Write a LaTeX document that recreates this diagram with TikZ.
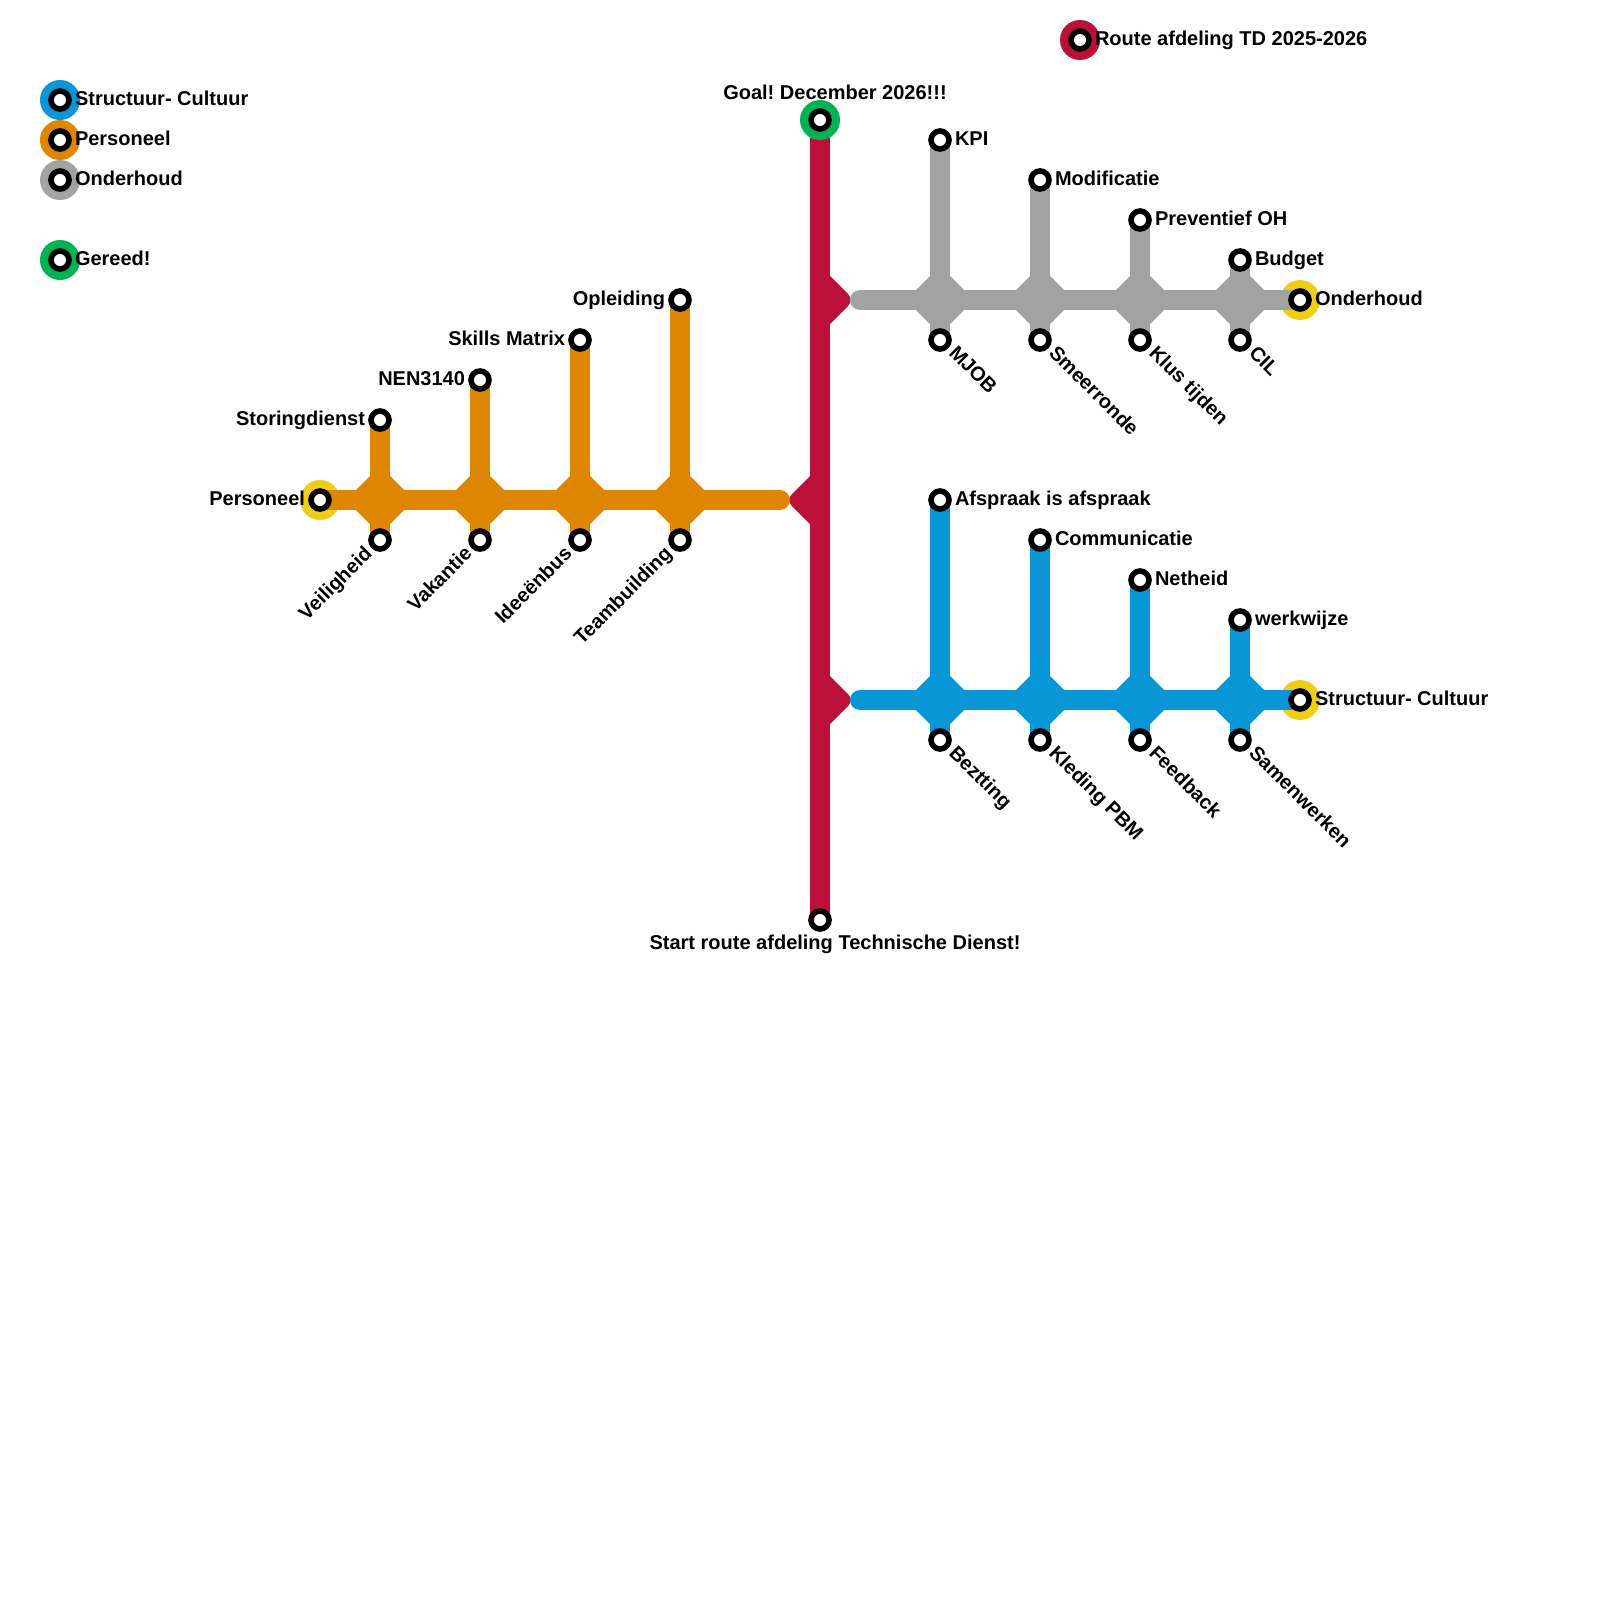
\documentclass[tikz,border=0pt]{standalone}
\usepackage{fontspec}
\setmainfont{Liberation Sans}
\usetikzlibrary{backgrounds,shapes.geometric}
\definecolor{lijnrood}{HTML}{BD1038}
\definecolor{lijnoranje}{HTML}{DF8600}
\definecolor{lijngrijs}{HTML}{A2A2A2}
\definecolor{lijnblauw}{HTML}{0896D7}
\definecolor{lijngeel}{HTML}{F0CE15}
\definecolor{lijngroen}{HTML}{00B251}
\tikzset{
    halte/.style={circle, draw=black, fill=white, line width=0.14cm, minimum size=0.45cm, inner sep=0pt, outer sep=0pt},
    halo/.style={circle, minimum size=1cm, inner sep=0pt, outer sep=0pt},
    kruis/.style={diamond, aspect=1, minimum size=1.7cm, inner sep=0pt, outer sep=0pt},
    lijn/.style={line width=0.5cm},
    naam/.style={font=\frenchspacing\bfseries\fontsize{14.226pt}{17pt}\selectfont, inner sep=0pt, outer sep=0pt},
}

\begin{document}
\begin{tikzpicture}[x=0.025cm,y=-0.025cm]
    \useasboundingbox (0,0) rectangle (1600,1600);
    % legenda
    \foreach \y/\kleur/\tekst in {100/lijnblauw/Structuur- Cultuur, 140/lijnoranje/Personeel, 180/lijngrijs/Onderhoud, 260/lijngroen/Gereed!} {
        \node[halo, fill=\kleur] (leghalo\y) at (60,\y) {};
        \node[halte] (leg\y) at (60,\y) {};
        \node[naam, anchor=base west] (legnaam\y) at (75,\y+5) {\tekst};
    }
    \node[halo, fill=lijnrood] (routehalo) at (1080,40) {};
    \node[halte] (route) at (1080,40) {};
    \node[naam, anchor=base west] (routenaam) at (1095,45) {Route afdeling TD 2025-2026};

    % eindpunten
    \node[halo, fill=lijngeel] (halopers) at (320,500) {};
    \node[halo, fill=lijngeel] (haloond) at (1300,300) {};
    \node[halo, fill=lijngeel] (halostruc) at (1300,700) {};
    \coordinate (startpers) at (780,500);
    \coordinate (startond) at (860,300);
    \coordinate (startstruc) at (860,700);

    % hoofdlijn
    \node[halo, fill=lijngroen] (goalhalo) at (820,120) {};
    \node[halte] (goal) at (820,120) {};
    \node[halte] (start) at (820,920) {};
    \begin{pgfonlayer}{background}
        \fill[lijnrood, rounded corners=0.2cm] (814,260) -- (854,300) -- (814,340) -- cycle;
        \fill[lijnrood, rounded corners=0.2cm] (814,660) -- (854,700) -- (814,740) -- cycle;
        \fill[lijnrood, rounded corners=0.2cm] (826,460) -- (786,500) -- (826,540) -- cycle;
        \draw[lijn, lijnrood] (start.center) -- (goal.center);
    \end{pgfonlayer}
    \node[naam, anchor=base] (goalnaam) at (835,99) {Goal! December 2026!!!};
    \node[naam, anchor=base] (startnaam) at (835,949) {Start route afdeling Technische Dienst!};

    % onderhoud
    \draw[lijn, lijngrijs, line cap=round] (startond) -- (haloond.center);
    \foreach \x/\y/\boven/\onder in {940/140/KPI/MJOB, 1040/180/Modificatie/Smeerronde, 1140/220/Preventief OH/Klus tijden, 1240/260/Budget/CIL} {
        \node[kruis, fill=lijngrijs] (ond\x) at (\x,300) {};
        \node[halte] (ondb\x) at (\x,\y) {};
        \node[halte] (ondo\x) at (\x,340) {};
        \begin{pgfonlayer}{background}
            \draw[lijn, lijngrijs] (ondb\x.center) -- (ondo\x.center);
        \end{pgfonlayer}
        \node[naam, anchor=base west] (ondnaamb\x) at (\x+15,\y+5) {\boven};
        \node[naam, anchor=base west, rotate=-45] (ondnaamo\x) at (\x+8,354) {\onder};
    }
    \node[halte] (ondeind) at (1300,300) {};
    \node[naam, anchor=base west] (ondeindnaam) at (1315,305) {Onderhoud};

    % structuur
    \draw[lijn, lijnblauw, line cap=round] (startstruc) -- (halostruc.center);
    \foreach \x/\y/\boven/\onder in {940/500/Afspraak is afspraak/Beztting, 1040/540/Communicatie/Kleding PBM, 1140/580/Netheid/Feedback, 1240/620/werkwijze/Samenwerken} {
        \node[kruis, fill=lijnblauw] (struc\x) at (\x,700) {};
        \node[halte] (strucb\x) at (\x,\y) {};
        \node[halte] (struco\x) at (\x,740) {};
        \begin{pgfonlayer}{background}
            \draw[lijn, lijnblauw] (strucb\x.center) -- (struco\x.center);
        \end{pgfonlayer}
        \node[naam, anchor=base west] (strucnaamb\x) at (\x+15,\y+5) {\boven};
        \node[naam, anchor=base west, rotate=-45] (strucnaamo\x) at (\x+8,754) {\onder};
    }
    \node[halte] (struceind) at (1300,700) {};
    \node[naam, anchor=base west] (struceindnaam) at (1315,705) {Structuur- Cultuur};

    % personeel
    \draw[lijn, lijnoranje, line cap=round] (startpers) -- (halopers.center);
    \foreach \x/\y/\boven/\onder in {380/420/Storingdienst/Veiligheid, 480/380/NEN3140/Vakantie, 580/340/Skills Matrix/Ideeënbus, 680/300/Opleiding/Teambuilding} {
        \node[kruis, fill=lijnoranje] (pers\x) at (\x,500) {};
        \node[halte] (persb\x) at (\x,\y) {};
        \node[halte] (perso\x) at (\x,540) {};
        \begin{pgfonlayer}{background}
            \draw[lijn, lijnoranje] (persb\x.center) -- (perso\x.center);
        \end{pgfonlayer}
        \node[naam, anchor=base east] (persnaamb\x) at (\x-15,\y+5) {\boven};
        \node[naam, anchor=base east, rotate=45] (persnaamo\x) at (\x-7,555) {\onder};
    }
    \node[halte] (perseind) at (320,500) {};
    \node[naam, anchor=base east] (perseindnaam) at (305,505) {Personeel};
\end{tikzpicture}
\end{document}
